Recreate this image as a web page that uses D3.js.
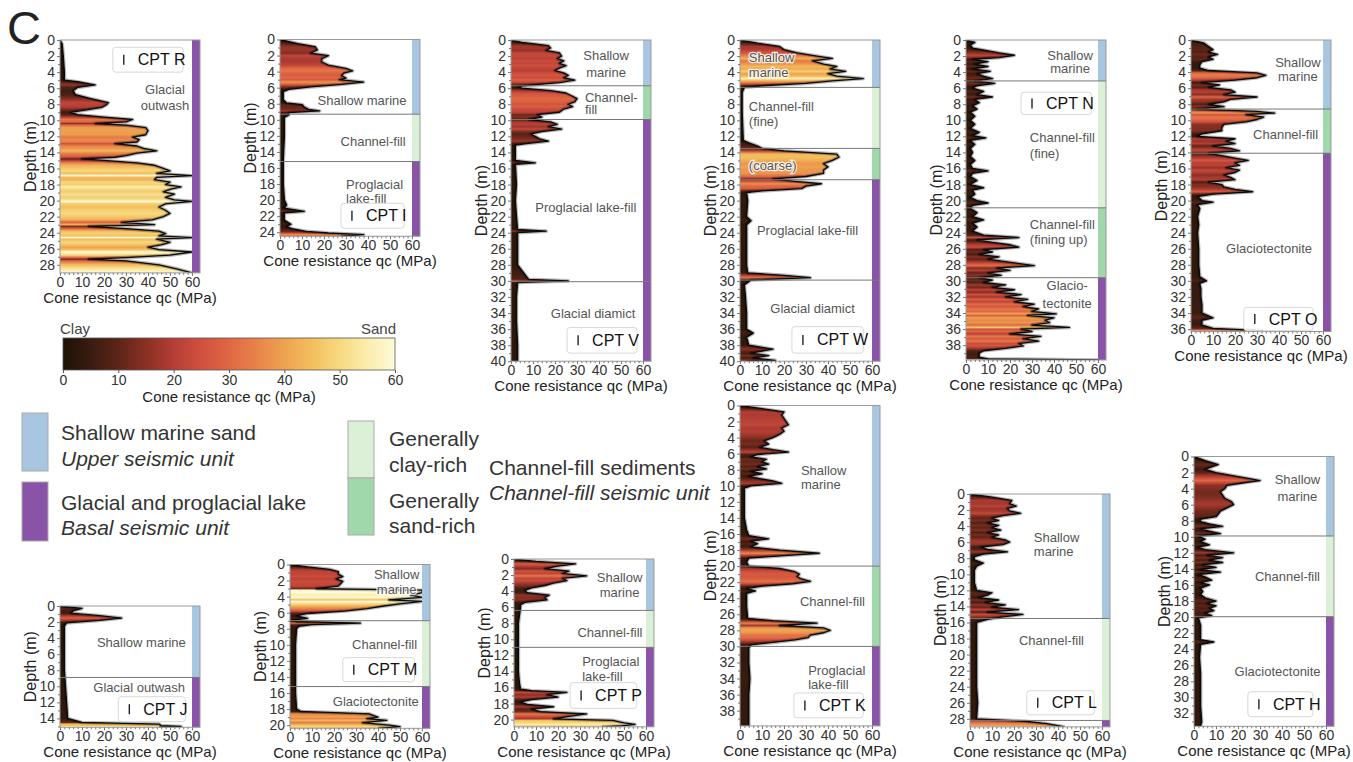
<!DOCTYPE html>
<html>
<head>
<meta charset="utf-8">
<script src="https://cdn.jsdelivr.net/npm/d3@7"></script>
<style>
  body { margin: 0; background: #fff; }
  svg { display: block; font-family: "Liberation Sans", Arial, sans-serif; }
</style>
</head>
<body>
<svg id="chart" width="1353" height="762"></svg>
<script>
// ---- data: CPT profiles as [depth (m), qc (MPa)] ----
const profileR = [[0,0],[0.5,1],[2,1.5],[4,2],[5,2],[5.2,8],[5.6,16],[5.9,8],[6.3,6],[6.8,7],[7.3,14],[7.8,22],[8.1,21],[8.4,19],[8.7,12],[9,5],[9.3,8],[9.6,20],[9.9,33],[10.2,30],[10.4,16],[10.6,30],[10.9,39],[11.3,40],[11.8,39],[12.1,33],[12.4,36],[12.7,35],[12.9,25],[13.2,35],[13.5,38],[13.8,44],[14.1,35],[14.4,30],[14.6,25],[14.8,10],[15,20],[15.3,35],[15.6,43],[16,47],[16.3,50],[16.6,44],[16.9,60],[17.1,44],[17.4,43],[17.7,50],[18,48],[18.3,55],[18.6,50],[18.9,47],[19.2,52],[19.6,48],[19.9,52],[20.1,60],[20.4,48],[20.8,45],[21.2,48],[21.6,50],[22,47],[22.4,42],[22.7,28],[23,43],[23.2,13],[23.5,30],[23.8,45],[24.1,48],[24.4,45],[24.6,60],[24.8,44],[25.2,50],[25.5,46],[25.8,40],[26.1,45],[26.4,60],[26.8,50],[27.1,30],[27.3,13],[27.5,30],[28,45],[28.5,53],[29,60]];
const profileI = [[0,0],[0.5,8],[0.9,16],[1.3,17],[1.7,14],[2,22],[2.4,19],[2.8,19],[3.2,22],[3.6,30],[3.9,33],[4.2,29],[4.5,28],[4.8,30],[5,27],[5.3,38],[5.6,28],[5.9,14],[6.2,4],[6.5,1.5],[7.5,1.5],[7.9,3],[8.1,10],[8.4,11],[8.7,13],[8.9,18],[9.1,4],[9.4,4],[9.7,2],[12,2],[15,1.5],[18,1.5],[20,2],[20.6,3],[21,2],[21.4,11],[21.6,2],[22.5,2],[23,5],[23.3,3],[23.6,6],[23.9,12],[24.1,22],[24.3,38],[24.5,28]];
const profileV = [[0,0],[0.3,5],[0.7,17],[1,18],[1.3,16],[1.6,22],[2,23],[2.3,21],[2.6,24],[2.9,22],[3.2,25],[3.5,22],[3.8,20],[4.1,24],[4.4,26],[4.7,24],[5,29],[5.3,22],[5.6,10],[5.8,3],[6,5],[6.3,18],[6.6,25],[7,28],[7.3,30],[7.7,29],[8,26],[8.3,28],[8.6,24],[9,22],[9.3,12],[9.6,14],[9.9,8],[10.2,18],[10.5,21],[10.8,17],[11.1,23],[11.4,14],[11.7,9],[12,11],[12.3,13],[12.6,17],[12.9,7],[13.1,2],[15,2],[15.3,11],[15.5,2],[18,2.5],[20,2],[22,2.5],[23.6,3],[23.8,16],[24,3],[26,3],[28,3],[29.8,8],[30,26],[30.2,3],[32,2.5],[35,2.5],[38,3],[40,3]];
const profileW = [[0,0],[0.4,8],[0.8,18],[1.2,20],[1.6,26],[2,35],[2.3,42],[2.6,33],[3,38],[3.3,44],[3.6,41],[3.9,48],[4.2,40],[4.5,44],[4.8,56],[5.1,42],[5.4,30],[5.7,10],[5.9,2],[6.5,1],[9,1],[12.5,1.5],[12.8,4],[13.2,8],[13.5,10],[13.8,20],[14.2,44],[14.6,45],[15,42],[15.4,38],[15.8,40],[16.2,38],[16.6,38],[17,30],[17.3,15],[17.6,25],[17.9,37],[18.2,30],[18.5,28],[18.8,10],[19,3],[20,3.5],[22,3],[22.5,5],[23,3],[25,3],[28,3],[29,3.5],[29.3,20],[29.6,32],[29.9,5],[30.5,2],[32,2.5],[34,3],[36,3],[36.5,6],[37,3],[38,4],[38.5,15],[39,5],[39.3,13],[39.6,6],[39.9,16],[40,3]];
const profileN = [[0,0],[0.3,4],[0.6,2],[1,3],[1.3,9],[1.6,15],[1.9,22],[2.2,15],[2.4,3],[2.7,10],[3,4],[3.3,10],[3.6,3],[3.9,11],[4.2,5],[4.5,8],[4.8,12],[5.1,4],[5.4,13],[5.7,5],[6,3],[6.4,8],[6.8,5],[7.1,12],[7.4,4],[7.8,6],[8.2,3],[8.6,5],[9,2],[9.5,4],[10,2],[10.5,4],[11,2],[11.5,6],[11.9,3],[12.2,9],[12.5,2],[13,4],[13.5,2],[14,3],[14.5,2],[15,4],[15.5,2],[16,3],[16.3,10],[16.6,3],[17,2],[17.5,5],[18,2],[18.4,8],[18.7,3],[19.2,4],[19.6,2],[20,5],[20.3,10],[20.6,3],[21,2],[21.5,5],[22,3],[22.4,8],[22.8,3],[23.3,5],[23.8,3],[24.3,8],[24.6,24],[24.9,5],[25.2,12],[25.5,20],[25.8,24],[26.1,8],[26.4,12],[26.7,6],[27,15],[27.3,10],[27.6,18],[27.9,26],[28.1,31],[28.4,14],[28.7,20],[29,10],[29.3,16],[29.6,6],[29.9,12],[30.2,8],[30.5,18],[30.8,12],[31.1,22],[31.4,14],[31.7,25],[32,18],[32.3,28],[32.6,22],[32.9,31],[33.2,26],[33.5,33],[33.8,30],[34.1,41],[34.3,28],[34.6,40],[34.9,36],[35.2,38],[35.5,30],[35.8,47],[36,25],[36.3,30],[36.6,20],[36.9,34],[37.2,26],[37.5,33],[37.8,24],[38.1,26],[38.4,18],[38.7,8],[39,6],[39.5,6],[39.7,10],[39.85,60]];
const profileO = [[0,0],[0.4,6],[0.8,8],[1.2,10],[1.5,8],[1.8,12],[2.1,8],[2.4,10],[2.7,5],[3.1,4],[3.5,4],[3.8,8],[4.1,30],[4.4,34],[4.7,30],[5,20],[5.3,5],[5.6,13],[5.9,8],[6.2,18],[6.5,20],[6.8,15],[7.1,30],[7.4,18],[7.7,15],[8,8],[8.3,15],[8.6,3],[8.9,30],[9.1,38],[9.3,25],[9.6,33],[9.9,30],[10.2,25],[10.5,15],[10.9,14],[11.3,14],[11.7,5],[12,3],[12.3,20],[12.6,16],[12.9,20],[13.2,10],[13.5,18],[13.8,22],[14.1,8],[14.4,14],[14.7,20],[15,26],[15.3,20],[15.6,22],[15.9,16],[16.2,22],[16.5,20],[16.8,15],[17.1,18],[17.4,20],[17.7,8],[18,14],[18.3,15],[18.6,20],[18.9,28],[19.2,10],[19.5,3],[20,5],[20.2,10],[20.5,3],[21,4],[22,3],[23,3.5],[24,3],[26,3.5],[28,3.5],[29.5,4],[30,7],[30.3,4],[31,4.5],[32,4.5],[33,5],[34,5],[34.6,10],[34.9,5],[35.5,5],[35.9,10],[36.2,33]];
const profileJ = [[0,0],[0.3,10],[0.6,6],[0.9,5],[1.2,18],[1.5,28],[1.8,18],[2.1,3],[2.5,2],[5,2],[8,2],[10,2.5],[12,3],[14,3.5],[14.5,10],[14.7,45],[14.9,46],[15,55],[15.1,45]];
const profileM = [[0,0],[0.3,8],[0.6,18],[0.9,22],[1.2,22],[1.5,24],[1.8,21],[2.1,24],[2.4,23],[2.7,22],[3,12],[3.2,60],[3.5,60],[3.8,55],[4.1,60],[4.4,45],[4.6,60],[4.9,50],[5.2,42],[5.5,35],[5.8,25],[6.1,8],[6.4,3],[6.7,8],[6.9,2],[7.1,3],[7.3,32],[7.5,10],[7.7,4],[8,3],[10,2.5],[12,2.5],[14,2.5],[16,2.5],[18,3],[18.3,5],[18.6,36],[19,40],[19.2,35],[19.4,44],[19.7,33],[20,45],[20.2,50],[20.4,40]];
const profileP = [[0,0],[0.3,10],[0.6,28],[0.9,20],[1.2,14],[1.5,25],[1.8,22],[2.1,33],[2.4,22],[2.7,24],[3,18],[3.3,14],[3.6,8],[3.9,5],[4.2,6],[4.5,16],[4.8,14],[5.1,15],[5.4,5],[5.7,3],[6,3],[8,2],[10,2],[12,2],[14,2],[15.5,2.5],[16.2,3],[16.4,8],[16.6,24],[16.9,15],[17.2,20],[17.5,8],[17.8,3],[18.1,6],[18.4,18],[18.7,8],[19,12],[19.3,33],[19.6,25],[19.9,18],[20.1,45],[20.4,50],[20.6,55],[20.8,48],[20.9,40]];
const profileK = [[0,0],[0.4,10],[0.8,20],[1.2,19],[1.6,20],[2,21],[2.4,22],[2.8,19],[3.2,20],[3.6,18],[4,15],[4.4,11],[4.8,13],[5.2,9],[5.5,15],[5.8,22],[6.1,8],[6.4,5],[6.7,12],[7,10],[7.3,13],[7.6,8],[7.9,12],[8.2,5],[8.5,10],[8.8,4],[9.1,9],[9.4,15],[9.7,19],[10,5],[10.3,2],[12,2],[14,2],[15.5,3],[16.2,4],[16.6,13],[16.9,5],[17.2,8],[17.6,5],[18,18],[18.4,36],[18.7,20],[19,4],[19.5,3],[20,4],[20.3,18],[20.7,25],[21,27],[21.3,26],[21.6,28],[21.9,32],[22.2,24],[22.5,10],[22.8,3],[23.1,7],[23.4,3],[25,3],[26.5,3.5],[26.8,15],[27.1,35],[27.4,18],[27.7,38],[28,41],[28.3,38],[28.6,32],[28.9,31],[29.2,25],[29.5,15],[29.8,5],[30.2,4],[32,4],[34,4.5],[36,4],[38,4],[39.9,4]];
const profileL = [[0,0],[0.4,10],[0.8,19],[1.2,18],[1.5,21],[1.8,17],[2.1,18],[2.4,23],[2.7,15],[3,10],[3.3,13],[3.6,8],[3.9,13],[4.2,10],[4.5,14],[4.8,8],[5.1,13],[5.4,10],[5.7,16],[6,18],[6.3,15],[6.6,5],[6.9,8],[7.2,17],[7.5,6],[7.8,2],[8.2,2],[8.6,6],[9,3],[9.5,2],[11,2],[12,3],[12.3,10],[12.6,8],[12.9,4],[13.2,13],[13.5,7],[13.8,16],[14.1,10],[14.4,22],[14.7,8],[15,24],[15.3,15],[15.6,8],[16,3],[18,3],[20,3],[22,3],[24,3],[26,3.5],[28,3],[28.3,25],[28.6,35],[29,43]];
const profileH = [[0,0],[0.5,5],[1,11],[1.3,8],[1.6,5],[2,10],[2.5,20],[2.8,26],[3,30],[3.3,22],[3.6,15],[4,14],[4.4,12],[4.8,13],[5.2,14],[5.6,17],[6,18],[6.4,15],[6.8,12],[7.2,11],[7.5,10],[7.8,3],[8.1,3],[8.4,7],[8.7,13],[9,3],[9.3,7],[9.6,12],[9.9,2],[10.3,5],[10.6,3],[11,7],[11.3,2],[11.6,5],[12,18],[12.3,6],[12.6,13],[12.9,7],[13.2,13],[13.5,4],[13.8,10],[14.1,3],[14.4,12],[14.7,2],[15,5],[15.4,8],[15.7,3],[16,7],[16.4,3],[16.8,4],[17.2,3],[17.6,5],[18,10],[18.3,6],[18.6,10],[18.9,7],[19.2,9],[19.5,5],[19.8,8],[20.1,2],[21,3],[22,3],[22.8,3],[23.1,9],[23.4,3],[25,2.5],[27,3],[29,3],[31,3],[33,3.5],[33.6,3]];

// ---- data: interpreted units [top (m), base (m), unit] ----
const unitsR = [[0,29,"basal"]];
const unitsI = [[0,9.3,"marine"],[9.3,15.2,"clay"],[15.2,24.5,"basal"]];
const unitsV = [[0,5.7,"marine"],[5.7,9.9,"sand"],[9.9,30.1,"basal"],[30.1,40,"basal"]];
const unitsW = [[0,5.9,"marine"],[5.9,13.5,"clay"],[13.5,17.4,"sand"],[17.4,29.9,"basal"],[29.9,40,"basal"]];
const unitsN = [[0,5.1,"marine"],[5.1,20.9,"clay"],[20.9,29.6,"sand"],[29.6,39.85,"basal"]];
const unitsO = [[0,8.6,"marine"],[8.6,14.1,"sand"],[14.1,36.3,"basal"]];
const unitsJ = [[0,8.9,"marine"],[8.9,15.1,"basal"]];
const unitsM = [[0,7.0,"marine"],[7.0,15.2,"clay"],[15.2,20.4,"basal"]];
const unitsP = [[0,6.4,"marine"],[6.4,11,"clay"],[11,20.9,"basal"]];
const unitsK = [[0,20,"marine"],[20,30,"sand"],[30,39.9,"basal"]];
const unitsL = [[0,15.5,"marine"],[15.5,28.2,"clay"],[28.2,29,"basal"]];
const unitsH = [[0,9.9,"marine"],[9.9,19.95,"clay"],[19.95,33.6,"basal"]];

const qcTicks = [0, 10, 20, 30, 40, 50, 60];
const colorbarTicks = [0, 10, 20, 30, 40, 50, 60];
const cmapValues = [0, 5, 10, 15, 20, 25, 30, 35, 40, 45, 50, 55, 60];

// ---- styles ----
const cmapColors = ["#1b1304","#3a1c10","#5e2418","#8a3024","#b53e35","#d0503e","#df6743","#e8834a","#eea250","#f3bf5d","#f7d97f","#fbedae","#fefad8"];
const unitColors = { marine: "#a9c6e0", clay: "#dcf0d7", sand: "#a0d8ab", basal: "#8953a8" };
const textColor = "#333";
const labelColor = "#555";

// ---- layout: panel origin, depth range, annotations [text, qc, depth, anchor], legend box [qc0, qc1, d0, d1] ----
const panels = [
  { name: "R", profile: profileR, units: unitsR, x: 60, y: 40, maxDepth: 29,
    notes: [["Glacial",47.7,6.2,"middle"],["outwash",47.7,8.2,"middle"]], box: [24,56,0.9,4.0] },
  { name: "I", profile: profileI, units: unitsI, x: 280, y: 39.5, maxDepth: 24.5,
    notes: [["Shallow marine",37.3,7.6,"middle"],["Channel-fill",42.3,12.7,"middle"],["Proglacial",30,18.0,"start"],["lake-fill",30,19.8,"start"]], box: [27.7,56.4,20.4,23.5] },
  { name: "V", profile: profileV, units: unitsV, x: 511, y: 40, maxDepth: 40,
    notes: [["Shallow",43.2,1.9,"middle"],["marine",43.2,4.0,"middle"],["Channel-",33.6,7.1,"start"],["fill",33.6,8.7,"start"],["Proglacial lake-fill",34,20.8,"middle"],["Glacial diamict",37.3,34,"middle"]], box: [25.5,57.3,35.8,39] },
  { name: "W", profile: profileW, units: unitsW, x: 740, y: 40, maxDepth: 40,
    notes: [["Shallow",4,2.2,"start"],["marine",4,4.1,"start"],["Channel-fill",4,8.3,"start"],["(fine)",4,10.2,"start"],["(coarse)",4,15.6,"start"],["Proglacial lake-fill",30.7,23.7,"middle"],["Glacial diamict",33,33.4,"middle"]], box: [23.6,56,35.7,39] },
  { name: "N", profile: profileN, units: unitsN, x: 966, y: 40, maxDepth: 39.85,
    notes: [["Shallow",47.3,1.9,"middle"],["marine",47.3,3.6,"middle"],["Channel-fill",29,12.2,"start"],["(fine)",29,14.1,"start"],["Channel-fill",29,23,"start"],["(fining up)",29,24.8,"start"],["Glacio-",46,30.6,"middle"],["tectonite",46,32.8,"middle"]], box: [25,57,6.5,9.3] },
  { name: "O", profile: profileO, units: unitsO, x: 1191, y: 40, maxDepth: 36.3,
    notes: [["Shallow",48.6,2.75,"middle"],["marine",48.6,4.6,"middle"],["Channel-fill",43,11.8,"middle"],["Glaciotectonite",35.5,26,"middle"]], box: [24,55.5,33.3,36.2] },
  { name: "J", profile: profileJ, units: unitsJ, x: 60, y: 606, maxDepth: 15.1,
    notes: [["Shallow marine",37,4.6,"middle"],["Glacial outwash",36,10.2,"middle"]], box: [26.5,57,11.3,14.4] },
  { name: "M", profile: profileM, units: unitsM, x: 290, y: 564.5, maxDepth: 20.4,
    notes: [["Shallow",48.5,1.3,"middle"],["marine",48.5,3.1,"middle"],["Channel-fill",43,10.0,"middle"],["Glaciotectonite",39,17,"middle"]], box: [24,56.6,11.6,14.6] },
  { name: "P", profile: profileP, units: unitsP, x: 514, y: 559, maxDepth: 20.9,
    notes: [["Shallow",48,2.3,"middle"],["marine",48,4.2,"middle"],["Channel-fill",43.6,9.1,"middle"],["Proglacial",31,12.8,"start"],["lake-fill",31,14.6,"start"]], box: [25.5,55.8,15.4,18.6] },
  { name: "K", profile: profileK, units: unitsK, x: 740, y: 405.5, maxDepth: 39.9,
    notes: [["Shallow",27.7,8.1,"start"],["marine",27.7,9.9,"start"],["Channel-fill",42,24.4,"middle"],["Proglacial",31,33,"start"],["lake-fill",31,34.8,"start"]], box: [24.5,56,35.8,38.9] },
  { name: "L", profile: profileL, units: unitsL, x: 970, y: 494, maxDepth: 29,
    notes: [["Shallow",29,5.4,"start"],["marine",29,7.2,"start"],["Channel-fill",37,18.3,"middle"]], box: [25.8,56.4,24.5,27.5] },
  { name: "H", profile: profileH, units: unitsH, x: 1194, y: 456.5, maxDepth: 33.6,
    notes: [["Shallow",47,2.9,"middle"],["marine",47,5,"middle"],["Channel-fill",42.5,15,"middle"],["Glaciotectonite",38,26.8,"middle"]], box: [24.5,54,29.3,32.4] }
];

const pxPerMPa = 2.2, pxPerM = 8.03, barW = 8;

const svg = d3.select("#chart");
const defs = svg.append("defs");

const qcColor = d3.scaleLinear().domain(cmapValues).range(cmapColors).clamp(true);

// big panel letter
svg.append("text").attr("x", 7).attr("y", 44).attr("font-size", 47).attr("fill", "#222").text("C");

panels.forEach(function(p) {
  const x = d3.scaleLinear().domain([0, 60]).range([p.x, p.x + 60 * pxPerMPa]);
  const y = d3.scaleLinear().domain([0, p.maxDepth]).range([p.y, p.y + p.maxDepth * pxPerM]);
  const x0 = x(0), xR = x(60), yT = y(0), yB = y(p.maxDepth);
  const g = svg.append("g").attr("class", "cpt cpt-" + p.name);

  // vertical gradient: colour of each band follows qc at that depth
  const grad = defs.append("linearGradient").attr("id", "grad" + p.name)
    .attr("gradientUnits", "userSpaceOnUse")
    .attr("x1", 0).attr("x2", 0).attr("y1", yT).attr("y2", yB);
  grad.selectAll("stop").data(p.profile).join("stop")
    .attr("offset", d => Math.min(1, d[0] / p.maxDepth))
    .attr("stop-color", d => qcColor(d[1]));

  defs.append("clipPath").attr("id", "clip" + p.name)
    .append("rect").attr("x", x0).attr("y", yT).attr("width", xR - x0).attr("height", yB - yT);

  const plot = g.append("g").attr("clip-path", "url(#clip" + p.name + ")");
  plot.append("path").datum(p.profile)
    .attr("d", d3.area().y(d => y(d[0])).x0(x0).x1(d => x(d[1])))
    .attr("fill", "url(#grad" + p.name + ")");
  const line = d3.line().x(d => x(d[1])).y(d => y(d[0]));
  plot.append("path").datum(p.profile).attr("d", line)
    .attr("fill", "none").attr("stroke", "#000").attr("stroke-opacity", 0.28)
    .attr("stroke-width", 3.6).attr("stroke-linejoin", "round");
  plot.append("path").datum(p.profile).attr("d", line)
    .attr("fill", "none").attr("stroke", "#0a0a0a")
    .attr("stroke-width", 1.3).attr("stroke-linejoin", "round");

  // unit colour bar
  g.selectAll("rect.unit").data(p.units).join("rect").attr("class", "unit")
    .attr("x", xR).attr("y", d => y(d[0]))
    .attr("width", barW).attr("height", d => y(d[1]) - y(d[0]))
    .attr("fill", d => unitColors[d[2]]);

  // unit boundaries
  g.selectAll("line.bound").data(p.units.slice(1)).join("line").attr("class", "bound")
    .attr("x1", x0).attr("x2", xR + barW)
    .attr("y1", d => y(d[0])).attr("y2", d => y(d[0]))
    .attr("stroke", "#777").attr("stroke-width", 1);

  // frame
  g.append("rect").attr("x", x0).attr("y", yT).attr("width", xR + barW - x0).attr("height", yB - yT)
    .attr("fill", "none").attr("stroke", "#9a9a9a").attr("stroke-width", 1);

  // axes
  const yAxis = g.append("g").attr("transform", "translate(" + x0 + ",0)")
    .call(d3.axisLeft(y).tickValues(d3.range(0, p.maxDepth + 0.001, 2)).tickSize(3).tickPadding(2));
  const xAxis = g.append("g").attr("transform", "translate(0," + yB + ")")
    .call(d3.axisBottom(x).tickValues(qcTicks).tickSize(3).tickPadding(1));
  g.append("g").attr("transform", "translate(0," + yB + ")")
    .call(d3.axisBottom(x).tickValues(d3.range(2, 60, 2).filter(v => v % 10)).tickSize(2).tickFormat(""));
  g.append("g").attr("transform", "translate(" + x0 + ",0)")
    .call(d3.axisLeft(y).tickValues(d3.range(1, p.maxDepth, 2)).tickSize(2).tickFormat(""));
  g.selectAll(".domain").remove();
  g.selectAll(".tick line").attr("stroke", "#777");
  [xAxis, yAxis].forEach(a => a.selectAll("text").attr("font-size", 14).attr("fill", textColor)
    .attr("font-family", "Liberation Sans, Arial, sans-serif"));

  g.append("text").attr("x", (x0 + xR + barW) / 2).attr("y", yB + 30)
    .attr("text-anchor", "middle").attr("font-size", 15).attr("fill", "#222")
    .text("Cone resistance qc (MPa)");
  g.append("text").attr("transform", "translate(" + (x0 - 30) + "," + ((yT + yB) / 2) + ") rotate(-90)")
    .attr("text-anchor", "middle").attr("dominant-baseline", "central")
    .attr("font-size", 16).attr("fill", "#222").text("Depth (m)");

  // lithology notes
  g.selectAll("text.note").data(p.notes).join("text").attr("class", "note")
    .attr("x", d => x(d[1])).attr("y", d => y(d[2]))
    .attr("text-anchor", d => d[3]).attr("dominant-baseline", "central")
    .attr("font-size", 13).attr("fill", labelColor)
    .attr("stroke", "#fff").attr("stroke-width", 2.5).attr("stroke-opacity", 0.85)
    .attr("paint-order", "stroke").text(d => d[0]);

  // CPT legend box
  const bx = x(p.box[0]), bw = x(p.box[1]) - bx, by = y(p.box[2]), bh = y(p.box[3]) - by;
  g.append("rect").attr("x", bx).attr("y", by).attr("width", bw).attr("height", bh).attr("rx", 3)
    .attr("fill", "#fff").attr("fill-opacity", 0.85).attr("stroke", "#d8d8d8");
  g.append("line").attr("x1", bx + 11).attr("x2", bx + 11).attr("y1", by + bh / 2 - 5).attr("y2", by + bh / 2 + 5)
    .attr("stroke", "#111").attr("stroke-width", 1.3);
  g.append("text").attr("x", bx + 25).attr("y", by + bh / 2).attr("dominant-baseline", "central")
    .attr("font-size", 16).attr("fill", "#111").text("CPT " + p.name);
});

// ---- colour bar ----
const cb = { x0: 63, x1: 395, y: 338, h: 32 };
const cbX = d3.scaleLinear().domain([0, 60]).range([cb.x0, cb.x1]);
const cbGrad = defs.append("linearGradient").attr("id", "cbGrad");
cbGrad.selectAll("stop").data(cmapValues).join("stop")
  .attr("offset", d => d / 60).attr("stop-color", d => qcColor(d));
svg.append("rect").attr("x", cb.x0).attr("y", cb.y).attr("width", cb.x1 - cb.x0).attr("height", cb.h)
  .attr("fill", "url(#cbGrad)").attr("stroke", "#555").attr("stroke-width", 0.8);
const cbAxis = svg.append("g").attr("transform", "translate(0," + (cb.y + cb.h) + ")")
  .call(d3.axisBottom(cbX).tickValues(colorbarTicks).tickSize(3).tickPadding(2));
cbAxis.select(".domain").remove();
cbAxis.selectAll("text").attr("font-size", 14).attr("fill", textColor).attr("font-family", "Liberation Sans, Arial, sans-serif");
cbAxis.selectAll(".tick line").attr("stroke", "#555");
svg.append("text").attr("x", cb.x0 - 3).attr("y", 328).attr("font-size", 15).attr("fill", "#444").attr("dominant-baseline", "central").text("Clay");
svg.append("text").attr("x", cb.x1 + 1).attr("y", 328).attr("font-size", 15).attr("fill", "#444").attr("text-anchor", "end").attr("dominant-baseline", "central").text("Sand");
svg.append("text").attr("x", (cb.x0 + cb.x1) / 2).attr("y", 396).attr("font-size", 15).attr("fill", "#222").attr("text-anchor", "middle").attr("dominant-baseline", "central").text("Cone resistance qc (MPa)");

// ---- unit legend ----
const legendBoxes = [
  { unit: "marine", x: 22, y: 413, h: 58 },
  { unit: "basal", x: 22, y: 482, h: 59 },
  { unit: "clay", x: 348, y: 421, h: 57 },
  { unit: "sand", x: 348, y: 478, h: 57 }
];
svg.selectAll("rect.legbox").data(legendBoxes).join("rect").attr("class", "legbox")
  .attr("x", d => d.x).attr("y", d => d.y).attr("width", 26).attr("height", d => d.h)
  .attr("fill", d => unitColors[d.unit]).attr("stroke", "#aaa").attr("stroke-width", 1);
const legendTexts = [
  ["Shallow marine sand", 61, 432, false], ["Upper seismic unit", 61, 458, true],
  ["Glacial and proglacial lake", 61, 502, false], ["Basal seismic unit", 61, 527, true],
  ["Generally", 389, 438, false], ["clay-rich", 389, 464, false],
  ["Generally", 389, 500, false], ["sand-rich", 389, 525, false],
  ["Channel-fill sediments", 489, 467, false], ["Channel-fill seismic unit", 489, 492, true]
];
svg.selectAll("text.legtext").data(legendTexts).join("text").attr("class", "legtext")
  .attr("x", d => d[1]).attr("y", d => d[2]).attr("dominant-baseline", "central")
  .attr("font-size", 21).attr("fill", "#333").attr("font-style", d => d[3] ? "italic" : "normal")
  .text(d => d[0]);
</script>
</body>
</html>
